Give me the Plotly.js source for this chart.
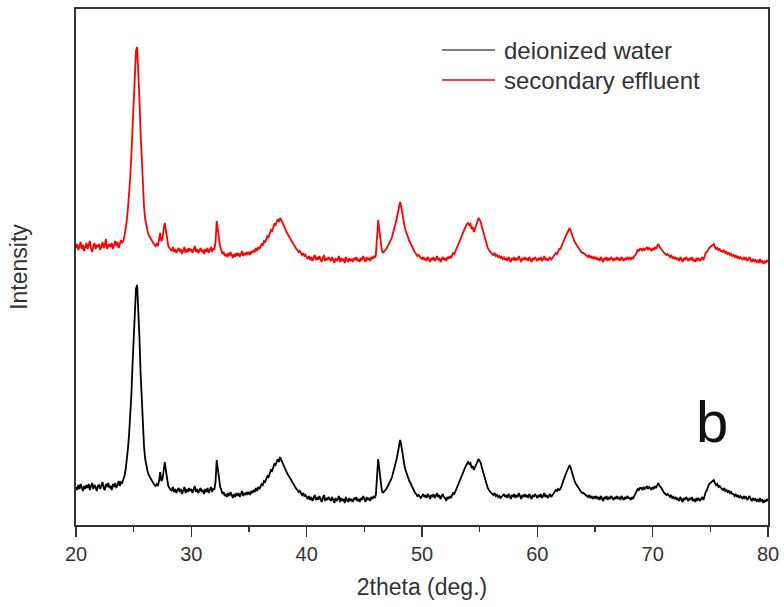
<!DOCTYPE html>
<html>
<head>
<meta charset="utf-8">
<script src="https://cdn.plot.ly/plotly-3.0.1.min.js"></script>
<style>html,body{margin:0;padding:0;background:#fff;}#chart{width:784px;height:607px;}</style>
</head>
<body>
<div id="chart"></div>
<script>
// 2theta sampling grid (deg.)
const thetaStart = 20.0;
const thetaStep = 0.1;

// Intensity (a.u.), deionized water sample, one value per 0.1 deg from 20 to 80
const deionizedWater = [
38,35,40,36,41,37,34,39,36,40,
37,41,35,39,42,36,40,38,34,39,
40,36,39,43,37,35,41,38,42,37,
39,35,41,38,42,37,40,44,39,43,
42,45,49,55,64,76,90,107,130,160,
192,218,236,240,220,188,152,122,100,78,
66,58,54,50,48,45,43,42,40,39,
41,39,44,53,44,46,56,63,54,43,
39,37,36,34,38,33,36,32,35,37,
33,36,31,35,38,32,36,33,37,34,
36,32,35,39,33,36,32,34,37,33,
35,31,36,33,37,32,35,38,33,36,
36,43,65,56,44,38,35,31,33,29,
31,28,32,29,33,30,27,31,28,32,
29,32,28,31,34,29,32,30,33,31,
33,30,34,32,35,33,37,34,38,36,
39,41,40,44,43,46,49,48,52,55,
54,58,61,60,64,66,63,68,65,62,
60,57,55,52,50,48,45,44,41,40,
38,36,35,33,34,31,30,32,29,30,
28,26,29,25,28,24,27,30,25,28,
25,29,26,23,27,30,24,27,25,28,
26,24,28,25,22,27,24,26,29,23,
27,24,26,22,28,25,23,27,24,26,
23,27,25,28,24,26,23,27,25,29,
26,23,28,25,27,24,28,26,29,27,
30,46,66,56,42,36,32,33,34,36,
38,40,42,45,48,52,56,61,66,72,
78,85,80,71,63,58,54,50,47,44,
42,39,36,34,32,31,29,30,28,27,
29,31,28,30,27,31,29,26,30,28,
31,27,29,32,28,30,26,29,31,28,
27,24,28,26,29,27,30,32,31,34,
36,38,41,45,48,51,54,56,59,61,
63,61,62,57,59,55,58,61,64,66,
64,62,57,53,49,44,40,37,35,33,
32,31,30,32,29,30,28,29,27,28,
29,31,28,30,27,31,29,26,30,28,
31,27,30,28,32,29,26,30,28,31,
28,30,27,31,29,26,30,28,31,29,
27,30,28,31,27,29,32,28,30,27,
29,31,28,30,32,33,35,34,36,35,
36,39,43,46,49,52,55,58,60,57,
52,48,45,42,40,38,36,35,33,32,
32,31,30,29,28,30,27,29,26,28,
27,29,26,28,25,29,27,24,28,26,
29,25,28,26,29,27,25,28,26,29,
26,28,25,29,27,25,28,26,29,27,
27,25,28,26,29,31,33,36,35,37,
37,35,38,36,37,39,36,38,37,35,
38,36,39,37,40,42,39,38,36,33,
32,31,30,31,29,28,30,27,28,26,
28,25,27,24,28,26,23,27,25,28,
26,24,27,25,28,24,26,23,27,25,
27,24,26,28,25,30,33,35,39,41,
42,43,44,45,42,40,41,38,39,37,
36,35,37,34,35,33,34,32,33,31,
31,29,31,28,30,27,29,28,26,29,
27,28,25,27,29,26,24,27,25,26,
24,26,23,27,24,25,22,25,23,26,
24
];

// Intensity (a.u.), secondary effluent sample (offset upward in the figure)
const secondaryEffluent = [
277,281,275,279,283,276,280,274,279,282,
276,280,284,277,273,279,282,276,280,278,
281,275,279,283,277,280,286,276,279,281,
278,282,276,280,284,279,283,277,281,285,
282,284,289,295,304,316,330,347,370,400,
432,458,474,478,458,426,392,362,342,318,
306,298,294,290,288,285,283,282,280,279,
281,279,284,292,284,286,296,302,294,283,
279,277,276,274,278,273,276,272,275,277,
273,276,271,275,278,272,276,273,277,274,
276,272,275,279,273,276,272,274,277,273,
275,271,276,273,277,272,275,278,273,276,
276,283,304,296,284,278,275,271,273,269,
271,268,272,269,273,270,267,271,268,272,
269,272,268,271,274,269,272,270,273,271,
273,270,274,272,275,273,277,274,278,276,
279,281,280,284,283,286,289,288,292,295,
294,298,301,300,304,306,303,307,305,302,
300,297,295,292,290,288,285,284,281,280,
278,276,275,273,274,271,270,272,269,270,
268,266,269,265,268,264,267,270,265,268,
265,269,266,263,267,270,264,267,265,268,
266,264,268,265,262,267,264,266,269,263,
267,264,266,262,268,265,263,267,264,266,
263,267,265,268,264,266,263,267,265,269,
266,263,268,265,267,264,268,266,269,267,
270,285,305,295,282,276,272,273,274,276,
278,280,282,285,288,292,296,301,306,312,
318,323,318,310,303,298,294,290,287,284,
282,279,276,274,272,271,269,270,268,267,
266,268,265,267,264,268,266,263,267,265,
268,264,266,269,265,267,263,266,268,265,
267,264,268,266,269,267,270,272,271,274,
276,278,281,285,288,291,294,296,299,301,
302,300,301,296,298,293,297,300,303,307,
305,303,298,294,290,284,280,277,275,273,
272,271,270,272,269,270,268,269,267,268,
266,268,265,267,264,268,266,263,267,265,
268,264,267,265,269,266,263,267,265,268,
265,267,264,268,266,263,267,265,268,266,
264,267,265,268,264,266,269,265,267,264,
266,268,265,267,269,270,272,271,274,276,
276,279,283,285,288,290,292,294,297,294,
290,287,284,282,280,278,276,275,273,272,
272,271,270,269,268,270,267,269,266,268,
266,268,265,267,264,268,266,263,267,265,
268,264,267,265,268,266,264,267,265,268,
265,267,264,268,266,264,267,265,268,266,
267,265,268,266,269,270,272,275,274,276,
276,274,277,275,276,278,275,277,276,274,
277,275,278,276,279,281,278,277,275,273,
272,271,270,271,269,268,270,267,268,266,
268,265,267,264,268,266,263,267,265,268,
266,264,267,265,268,264,266,263,267,265,
267,264,266,268,265,270,272,273,276,277,
278,279,280,281,278,276,277,275,276,274,
274,273,275,272,273,271,272,270,271,269,
270,268,270,267,269,266,268,267,265,268,
266,267,264,266,268,265,263,266,264,265,
263,265,262,266,263,264,261,264,262,265,
263
];

const xTickValues = [20, 30, 40, 50, 60, 70, 80];
const seriesNames = ["deionized water", "secondary effluent"];
const seriesColors = ["#000000", "#ff0000"];
const legendLineColors = ["#555555", "#ee0000"];
const panelLabel = "b";

const twoTheta = deionizedWater.map((_, i) => +(thetaStart + i * thetaStep).toFixed(1));

const FONT = 'Arial, "Liberation Sans", sans-serif';
const AXIS = '#333333';

const traces = [
  {x: twoTheta, y: deionizedWater, type: 'scatter', mode: 'lines', name: seriesNames[0],
   line: {color: seriesColors[0], width: 1.8}},
  {x: twoTheta, y: secondaryEffluent, type: 'scatter', mode: 'lines', name: seriesNames[1],
   line: {color: seriesColors[1], width: 1.8}}
];

// legend drawn as paper-anchored shapes + text
const legendRowsY = [0.9205, 0.8624];
const legendShapes = legendRowsY.map((yy, i) => ({
  type: 'line', xref: 'paper', yref: 'paper', x0: 0.529, x1: 0.6055, y0: yy, y1: yy,
  line: {color: legendLineColors[i], width: 1.3}
}));
const legendTexts = legendRowsY.map((yy, i) => ({
  xref: 'paper', yref: 'paper', x: 0.616, y: yy, xanchor: 'left', yanchor: 'middle',
  text: seriesNames[i], showarrow: false,
  font: {family: FONT, size: 24, color: '#333333'}
}));

const layout = {
  width: 784, height: 607,
  margin: {l: 76, r: 16, t: 9, b: 82},
  paper_bgcolor: '#ffffff', plot_bgcolor: '#ffffff',
  font: {family: FONT, color: '#222222'},
  showlegend: false,
  xaxis: {
    range: [20, 80], tickvals: xTickValues, ticktext: xTickValues.map(String),
    ticks: 'outside', ticklen: 10, tickwidth: 1.5, tickcolor: AXIS,
    minor: {dtick: 5, tick0: 0, ticks: 'outside', ticklen: 5, tickwidth: 1.5, tickcolor: AXIS, showgrid: false},
    showline: true, linecolor: AXIS, linewidth: 2, mirror: true,
    showgrid: false, zeroline: false,
    tickfont: {family: FONT, size: 20, color: '#333333'},
    title: {text: '2theta (deg.)', font: {family: FONT, size: 23, color: '#333333'}, standoff: 15}
  },
  yaxis: {
    range: [0, 516], showticklabels: false, ticks: '',
    showline: true, linecolor: AXIS, linewidth: 2, mirror: true,
    showgrid: false, zeroline: false,
    title: {text: 'Intensity', font: {family: FONT, size: 23, color: '#333333'}, standoff: 40}
  },
  shapes: legendShapes,
  annotations: legendTexts.concat([
    {x: 75.15, y: 104, xref: 'x', yref: 'y', text: panelLabel, showarrow: false,
     font: {family: FONT, size: 58, color: '#111111'}}
  ])
};

Plotly.newPlot('chart', traces, layout, {displayModeBar: false, staticPlot: true});
</script>
</body>
</html>
